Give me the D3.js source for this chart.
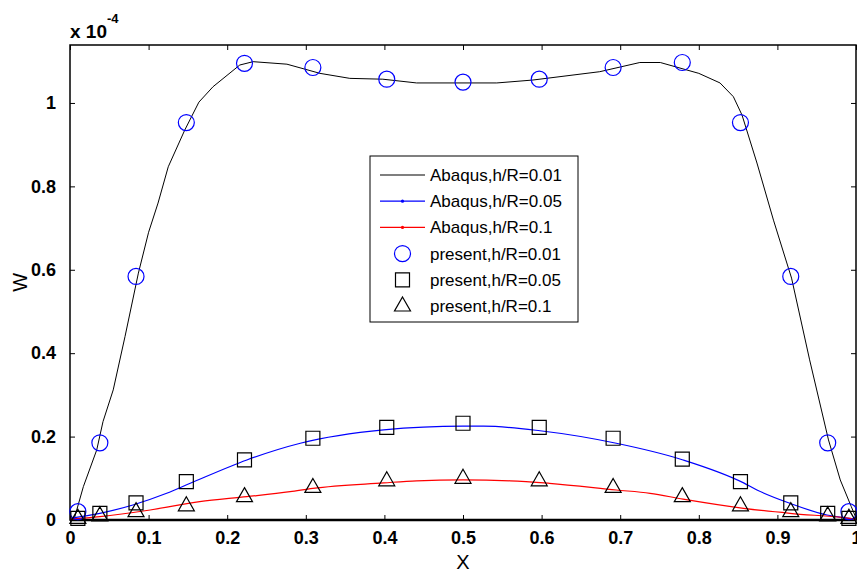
<!DOCTYPE html>
<html>
<head>
<meta charset="utf-8">
<title>W vs X</title>
<script src="https://cdn.jsdelivr.net/npm/d3@7"></script>
<style>
 body { margin: 0; background: #fff; }
 svg text { font-family: "Liberation Sans", Arial, sans-serif; }
</style>
</head>
<body>
<svg id="chart" width="857" height="573"></svg>
<script>
// values in units of 1e-4
var abaqus001X = [0, 0.006, 0.017, 0.034, 0.042, 0.055, 0.07, 0.087, 0.1, 0.112, 0.125, 0.146, 0.164, 0.182, 0.216, 0.233, 0.276, 0.318, 0.356, 0.398, 0.441, 0.543, 0.589, 0.674, 0.725, 0.751, 0.80, 0.827, 0.844, 0.855, 0.874, 0.895, 0.918, 0.941, 0.965, 0.98, 0.994, 1.0];
var abaqus001Y = [0, 0.007, 0.08, 0.168, 0.236, 0.312, 0.44, 0.592, 0.69, 0.76, 0.847, 0.935, 1.002, 1.039, 1.091, 1.099, 1.093, 1.071, 1.059, 1.057, 1.048, 1.048, 1.055, 1.075, 1.097, 1.097, 1.071, 1.048, 1.015, 0.971, 0.856, 0.719, 0.58, 0.384, 0.192, 0.096, 0.032, 0.005];

var abaqus005X = [0, 0.038, 0.08, 0.123, 0.153, 0.225, 0.293, 0.399, 0.5, 0.526, 0.598, 0.695, 0.78, 0.857, 0.874, 0.916, 0.963, 0.992, 1.0];
var abaqus005Y = [0.004, 0.016, 0.036, 0.064, 0.088, 0.144, 0.184, 0.216, 0.225, 0.225, 0.214, 0.184, 0.144, 0.089, 0.072, 0.04, 0.012, 0.004, 0.002];

var abaqus01X = [0, 0.038, 0.102, 0.165, 0.225, 0.28, 0.309, 0.399, 0.441, 0.5, 0.56, 0.61, 0.695, 0.738, 0.78, 0.857, 0.916, 0.992, 1.0];
var abaqus01Y = [0.002, 0.008, 0.024, 0.044, 0.056, 0.068, 0.076, 0.089, 0.094, 0.096, 0.094, 0.088, 0.072, 0.064, 0.05, 0.028, 0.016, 0.004, 0.002];

var presentX = [0.01, 0.038, 0.084, 0.148, 0.222, 0.309, 0.403, 0.5, 0.597, 0.691, 0.779, 0.853, 0.917, 0.964, 0.991];
var present001 = [0.02, 0.185, 0.584, 0.953, 1.095, 1.085, 1.057, 1.05, 1.057, 1.085, 1.097, 0.953, 0.584, 0.185, 0.02];
var present005 = [0.004, 0.016, 0.041, 0.092, 0.144, 0.196, 0.222, 0.232, 0.222, 0.196, 0.146, 0.092, 0.041, 0.016, 0.004];
var present01 = [0.004, 0.01, 0.02, 0.034, 0.056, 0.078, 0.094, 0.1, 0.094, 0.078, 0.056, 0.034, 0.02, 0.01, 0.004];

var xTicks = [0, 0.1, 0.2, 0.3, 0.4, 0.5, 0.6, 0.7, 0.8, 0.9, 1];
var yTicks = [0, 0.2, 0.4, 0.6, 0.8, 1];
var legendLabels = ["Abaqus,h/R=0.01", "Abaqus,h/R=0.05", "Abaqus,h/R=0.1",
                    "present,h/R=0.01", "present,h/R=0.05", "present,h/R=0.1"];

var svg = d3.select("#chart");
var pLeft = 70, pTop = 45, pRight = 856, pBottom = 520;

var x = d3.scaleLinear().domain([0, 1]).range([pLeft, pRight]);
var y = d3.scaleLinear().domain([0, 1.139]).range([pBottom, pTop]);

svg.append("defs").append("clipPath").attr("id", "clip")
  .append("rect").attr("x", pLeft).attr("y", pTop)
  .attr("width", pRight - pLeft).attr("height", pBottom - pTop);

var fmt = function(d) { return d === 0 ? "0" : d3.format("~g")(d); };

// axes with inward ticks
var gx = svg.append("g").attr("transform", "translate(0," + pBottom + ")")
  .call(d3.axisBottom(x).tickValues(xTicks).tickSize(-5).tickPadding(11).tickFormat(fmt));
var gxt = svg.append("g").attr("transform", "translate(0," + pTop + ")")
  .call(d3.axisTop(x).tickValues(xTicks).tickSize(-5).tickFormat(""));
var gy = svg.append("g").attr("transform", "translate(" + pLeft + ",0)")
  .call(d3.axisLeft(y).tickValues(yTicks).tickSize(-5).tickPadding(14).tickFormat(fmt));
var gyr = svg.append("g").attr("transform", "translate(" + pRight + ",0)")
  .call(d3.axisRight(y).tickValues(yTicks).tickSize(-5).tickFormat(""));

[gx, gxt, gy, gyr].forEach(function(g) {
  g.select(".domain").remove();
  g.selectAll(".tick line").attr("stroke", "#000");
  g.selectAll("text").attr("font-size", 18).attr("font-weight", "bold").attr("fill", "#000");
});

// frame
svg.append("rect").attr("x", pLeft).attr("y", pTop)
  .attr("width", pRight - pLeft).attr("height", pBottom - pTop)
  .attr("fill", "none").attr("stroke", "#000").attr("stroke-width", 1.5);
svg.append("line").attr("x1", pLeft).attr("x2", pRight).attr("y1", pBottom).attr("y2", pBottom)
  .attr("stroke", "#000").attr("stroke-width", 2.5);

var plot = svg.append("g").attr("clip-path", "url(#clip)");

function pairs(xs, ys) { return xs.map(function(v, i) { return [v, ys[i]]; }); }

var line = d3.line().x(function(d) { return x(d[0]); }).y(function(d) { return y(d[1]); });

plot.append("path").datum(pairs(abaqus001X, abaqus001Y))
  .attr("d", line).attr("fill", "none").attr("stroke", "#000").attr("stroke-width", 1);
plot.append("path").datum(pairs(abaqus005X, abaqus005Y))
  .attr("d", line.curve(d3.curveMonotoneX)).attr("fill", "none").attr("stroke", "#0000ff").attr("stroke-width", 1.2);
plot.append("path").datum(pairs(abaqus01X, abaqus01Y))
  .attr("d", line.curve(d3.curveMonotoneX)).attr("fill", "none").attr("stroke", "#ff0000").attr("stroke-width", 1.2);

var circle = d3.symbol().type(d3.symbolCircle).size(Math.PI * 8 * 8);
var square = d3.symbol().type(d3.symbolSquare).size(14 * 14);
var tri = function() {
  // open triangle, base width 16
  return "M0,-9L8,5L-8,5Z";
};

function at(d) { return "translate(" + x(d[0]) + "," + y(d[1]) + ")"; }

svg.selectAll(".p1").data(pairs(presentX, present001)).enter().append("path")
  .attr("d", circle).attr("transform", at)
  .attr("fill", "none").attr("stroke", "#0000ff").attr("stroke-width", 1.2);
svg.selectAll(".p2").data(pairs(presentX, present005)).enter().append("path")
  .attr("d", square).attr("transform", at)
  .attr("fill", "none").attr("stroke", "#000").attr("stroke-width", 1.2);
svg.selectAll(".p3").data(pairs(presentX, present01)).enter().append("path")
  .attr("d", tri).attr("transform", at)
  .attr("fill", "none").attr("stroke", "#000").attr("stroke-width", 1.2);

// exponent label
var ex = svg.append("text").attr("x", 70).attr("y", 38)
  .attr("font-size", 19).attr("font-weight", "bold");
ex.append("tspan").text("x 10");
ex.append("tspan").attr("font-size", 13).attr("dy", -15).text("-4");

// axis titles
svg.append("text").attr("x", x(0.5)).attr("y", 569).attr("text-anchor", "middle")
  .attr("font-size", 20).text("X");
svg.append("text").attr("transform", "translate(27," + y(0.57) + ") rotate(-90)")
  .attr("text-anchor", "middle").attr("font-size", 20).text("W");

// legend
var lg = svg.append("g");
lg.append("rect").attr("x", 370).attr("y", 156).attr("width", 208).attr("height", 166)
  .attr("fill", "#fff").attr("stroke", "#000").attr("stroke-width", 1);
var rowY = d3.range(6).map(function(i) { return 175 + i * 26.2; });
var lineColors = ["#000", "#0000ff", "#ff0000"];
legendLabels.forEach(function(label, i) {
  var yy = rowY[i];
  if (i < 3) {
    lg.append("line").attr("x1", 380).attr("x2", 425).attr("y1", yy).attr("y2", yy)
      .attr("stroke", lineColors[i]).attr("stroke-width", 1.2);
    if (i > 0) lg.append("circle").attr("cx", 402.5).attr("cy", yy).attr("r", 1.6).attr("fill", lineColors[i]);
  } else {
    var sym = i === 3 ? circle : (i === 4 ? square : tri);
    lg.append("path").attr("d", sym).attr("transform", "translate(402.5," + yy + ")")
      .attr("fill", "none").attr("stroke", i === 3 ? "#0000ff" : "#000").attr("stroke-width", 1.2);
  }
  lg.append("text").attr("x", 430).attr("y", yy + 6).attr("font-size", 17).text(label);
});
</script>
</body>
</html>
